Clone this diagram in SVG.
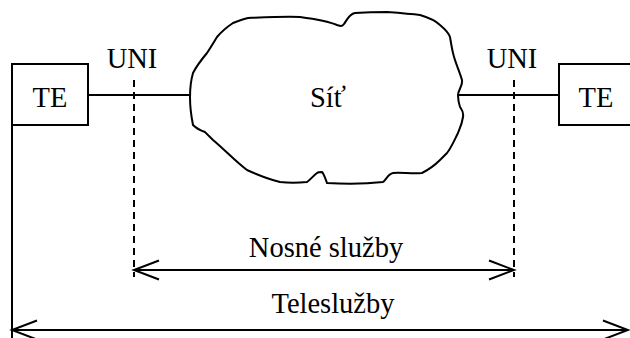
<svg xmlns="http://www.w3.org/2000/svg" width="630" height="338" viewBox="0 0 630 338">
<style>
.t{font-family:"Liberation Serif","Times New Roman",serif;font-size:28.5px;fill:#000;text-anchor:middle}
.s{fill:none;stroke:#000;stroke-width:2}
.d{fill:none;stroke:#000;stroke-width:2;stroke-dasharray:7 5}
</style>
<defs>
<marker id="ah" markerUnits="userSpaceOnUse" markerWidth="30" markerHeight="24" viewBox="-27 -11 30 22" refX="0" refY="0" orient="auto-start-reverse">
<path d="M-25,-9.5 L0,0 L-25,9.5" fill="none" stroke="#000" stroke-width="2"/>
</marker>
</defs>
<rect width="630" height="338" fill="#fff"/>
<g id="te-left">
<rect class="s" x="12" y="64" width="76" height="61"/>
<text class="t" x="50" y="107">TE</text>
</g>
<g id="te-right">
<rect class="s" x="559" y="64" width="90" height="61"/>
<text class="t" x="596" y="107">TE</text>
</g>
<g id="net">
<path class="s" d="M248,18 C270,17 290,16 300,17 C315,19 330,22 337,25 C340,26 342,27 344,24 C347,20 349,14 355,13 C370,12 380,12 387,12 C400,13 412,14 420,15 C430,18 436,21 440,25 C446,30 449,34 450,37 C451,43 452,49 453,53 C455,62 459,70 462,80 C463,86 458,90 458,95 C458,101 459,104 460,107 C462,110 464,112 463,117 C462,124 460,128 458,133 C454,141 451,148 447,153 C444,156 442,158 440,160 C434,166 428,170 422,173 C412,174 400,172 393,173 C388,174 386,180 383,182 C365,184 345,184 327,183 C325,178 324,174 322,172 C319,172 318,172 317,173 C313,176 310,180 307,182 C298,183 288,183 280,182 C268,179 258,175 247,170 C236,162 225,150 213,140 C209,136 207,134 205,132 C199,130 196,128 193,125 C191,115 190,105 190,97 C190,88 191,80 193,73 C197,65 202,59 207,53 C211,47 214,42 217,37 C222,31 227,27 233,23 C238,21 243,19 248,18 Z"/>
<text class="t" x="328" y="107">Síť</text>
</g>
<g id="uni-left">
<text class="t" x="132" y="68">UNI</text>
</g>
<g id="uni-right">
<text class="t" x="512" y="68">UNI</text>
</g>
<g id="connectors">
<line class="s" x1="88" y1="95" x2="190" y2="95"/>
<line class="s" x1="458" y1="95" x2="559" y2="95"/>
<line class="d" x1="134" y1="80" x2="134" y2="277"/>
<line class="d" x1="514" y1="80" x2="514" y2="277"/>
<line class="s" x1="12" y1="125" x2="12" y2="338"/>
<line class="s" x1="134" y1="270" x2="514" y2="270" marker-start="url(#ah)" marker-end="url(#ah)"/>
<line class="s" x1="12" y1="330" x2="628" y2="330" marker-start="url(#ah)" marker-end="url(#ah)"/>
</g>
<g id="labels">
<text class="t" x="326" y="257">Nosné služby</text>
<text class="t" x="333" y="313">Teleslužby</text>
</g>
</svg>
